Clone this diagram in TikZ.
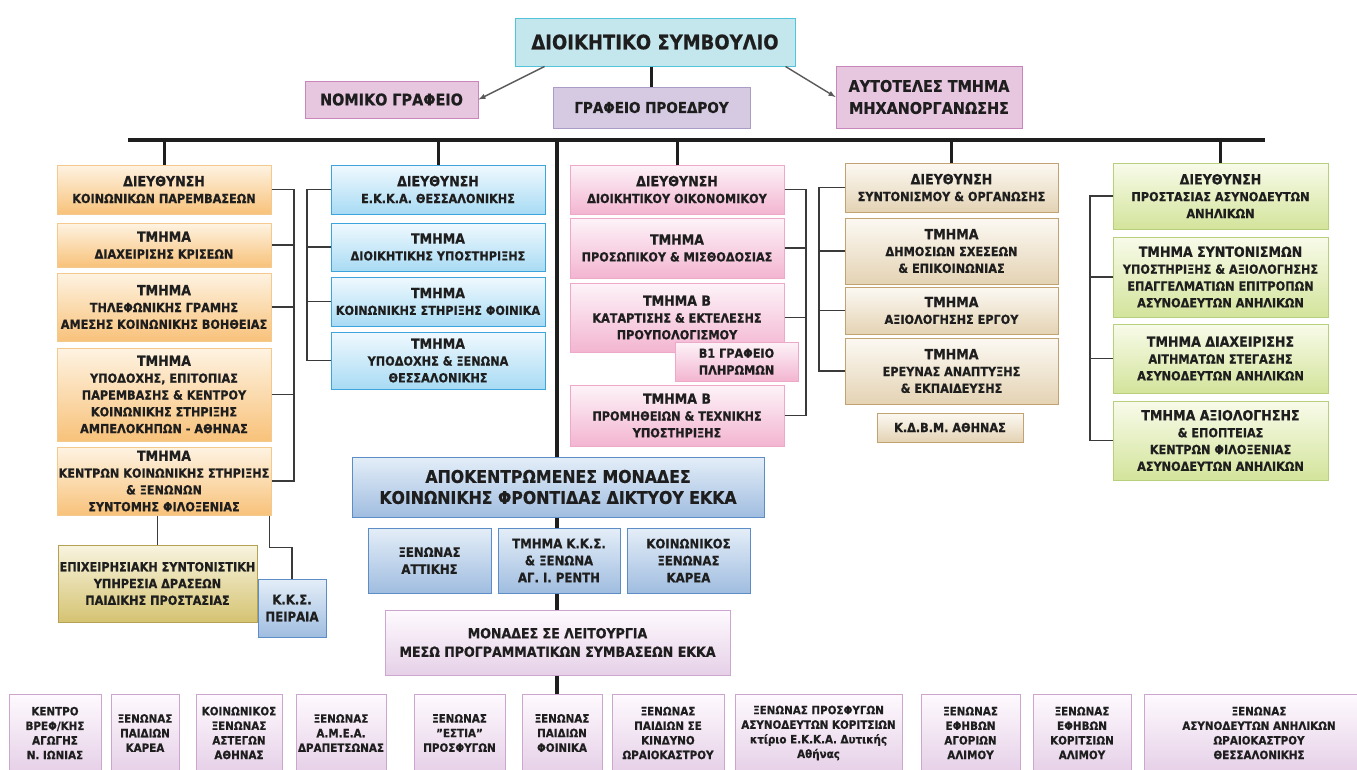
\documentclass[tikz,border=0pt]{standalone}
\usepackage{fontspec}
\setmainfont{DejaVu Sans Condensed}[Ligatures=ResetAll, BoldFeatures={FakeBold=0.6}]
\usepackage{xcolor}
\usetikzlibrary{arrows}

\definecolor{ink}{HTML}{1E1E1E}
\definecolor{tiegray}{HTML}{3A3A3A}
\definecolor{arrgray}{HTML}{5A5A5A}
\definecolor{ortop}{HTML}{FEF3E2}\definecolor{orbot}{HTML}{F8C27A}\definecolor{orline}{HTML}{F4C98E}
\definecolor{bltop}{HTML}{F0F9FE}\definecolor{blbot}{HTML}{A8DBF4}\definecolor{blline}{HTML}{3DA5DC}
\definecolor{pktop}{HTML}{FDF3F8}\definecolor{pkbot}{HTML}{F3B5D1}\definecolor{pkline}{HTML}{EEA8C8}
\definecolor{tntop}{HTML}{FCF9F3}\definecolor{tnbot}{HTML}{E4D3B4}\definecolor{tnline}{HTML}{C3A271}
\definecolor{grtop}{HTML}{F8FBEA}\definecolor{grbot}{HTML}{D3E49B}\definecolor{grline}{HTML}{B8D07C}
\definecolor{eptop}{HTML}{F8F4DF}\definecolor{epbot}{HTML}{D5C372}\definecolor{epline}{HTML}{B4A152}
\definecolor{dbtop}{HTML}{E4EEF8}\definecolor{dbbot}{HTML}{A0BDE0}\definecolor{dbline}{HTML}{5C8DC6}
\definecolor{lvtop}{HTML}{FEFAFE}\definecolor{lvbot}{HTML}{E6D0E8}\definecolor{lvline}{HTML}{CDA6CF}
\definecolor{dsfill}{HTML}{C4E6ED}\definecolor{dsline}{HTML}{52C3D9}
\definecolor{nmfill}{HTML}{E7C6E0}\definecolor{nmline}{HTML}{C886BA}
\definecolor{gpfill}{HTML}{D6CAE2}\definecolor{gpline}{HTML}{AA9CC5}

\newcommand\hd[1]{{\fontsize{14}{17.5}\selectfont #1}}

\tikzset{
  box/.style={draw, line width=1pt, align=center, inner sep=0pt, text=ink,
    font=\fontsize{12.5}{16.8}\selectfont\bfseries},
  orbox/.style={box, draw=orline, top color=ortop, bottom color=orbot, minimum width=214},
  blbox/.style={box, draw=blline, top color=bltop, bottom color=blbot, minimum width=214},
  pkbox/.style={box, draw=pkline, top color=pktop, bottom color=pkbot, minimum width=214},
  tnbox/.style={box, draw=tnline, top color=tntop, bottom color=tnbot, minimum width=213},
  grbox/.style={box, draw=grline, top color=grtop, bottom color=grbot, minimum width=215},
  epbox/.style={box, draw=epline, top color=eptop, bottom color=epbot},
  dbbox/.style={box, draw=dbline, top color=dbtop, bottom color=dbbot, font=\fontsize{13}{17}\selectfont\bfseries},
  lvbox/.style={box, draw=lvline, top color=lvtop, bottom color=lvbot},
  unit/.style={lvbox, minimum height=78, font=\fontsize{11.5}{14.6}\selectfont\bfseries},
  bar/.style={line width=4.5pt, draw=ink},
  drop/.style={line width=3pt, draw=ink},
  tie/.style={line width=1.5pt, draw=tiegray},
  arr/.style={-latex, line width=1.4pt, draw=arrgray},
}

\begin{document}
\begin{tikzpicture}[x=1pt,y=-1pt]
\useasboundingbox (0,0) rectangle (1357,769);
\clip (0,0) rectangle (1357,769);
\fill[white] (0,0) rectangle (1357,769);

% top level
\node[box, draw=dsline, fill=dsfill, minimum width=280, minimum height=48,
  font=\fontsize{20}{24}\selectfont\bfseries] (ds) at (655,42) {ΔΙΟΙΚΗΤΙΚΟ ΣΥΜΒΟΥΛΙΟ};
\node[box, draw=nmline, fill=nmfill, minimum width=173, minimum height=37,
  font=\fontsize{16}{19}\selectfont\bfseries] (nomiko) at (391.5,99.5) {ΝΟΜΙΚΟ ΓΡΑΦΕΙΟ};
\node[box, draw=gpline, fill=gpfill, minimum width=197, minimum height=41,
  font=\fontsize{15}{18}\selectfont\bfseries] (proedrou) at (651.5,107.5) {ΓΡΑΦΕΙΟ ΠΡΟΕΔΡΟΥ};
\node[box, draw=nmline, fill=nmfill, minimum width=186, minimum height=62,
  font=\fontsize{16}{22}\selectfont\bfseries] (mixan) at (929,97) {ΑΥΤΟΤΕΛΕΣ ΤΜΗΜΑ\\ΜΗΧΑΝΟΡΓΑΝΩΣΗΣ};

\draw[arr] ([xshift=30pt]ds.south west) -- (nomiko.east);
\draw[arr] ([xshift=-10pt]ds.south east) -- (mixan.west);
\draw[drop] (proedrou.north |- ds.south) -- (proedrou.north);

\coordinate (barL) at (128,140);
\coordinate (barR) at (1265,140);
\coordinate (trunk) at (557,140);

% orange column
\node[orbox, minimum height=49] (o1) at (164,189.5) {\hd{ΔΙΕΥΘΥΝΣΗ}\\ΚΟΙΝΩΝΙΚΩΝ ΠΑΡΕΜΒΑΣΕΩΝ};
\node[orbox, minimum height=44] (o2) at (164,245) {\hd{ΤΜΗΜΑ}\\ΔΙΑΧΕΙΡΙΣΗΣ ΚΡΙΣΕΩΝ};
\node[orbox, minimum height=68] (o3) at (164,307) {\hd{ΤΜΗΜΑ}\\ΤΗΛΕΦΩΝΙΚΗΣ ΓΡΑΜΗΣ\\ΑΜΕΣΗΣ ΚΟΙΝΩΝΙΚΗΣ ΒΟΗΘΕΙΑΣ};
\node[orbox, minimum height=93] (o4) at (164,394.5) {\hd{ΤΜΗΜΑ}\\ΥΠΟΔΟΧΗΣ, ΕΠΙΤΟΠΙΑΣ\\ΠΑΡΕΜΒΑΣΗΣ \& ΚΕΝΤΡΟΥ\\ΚΟΙΝΩΝΙΚΗΣ ΣΤΗΡΙΞΗΣ\\ΑΜΠΕΛΟΚΗΠΩΝ - ΑΘΗΝΑΣ};
\node[orbox, minimum height=68] (o5) at (164,481) {\hd{ΤΜΗΜΑ}\\ΚΕΝΤΡΩΝ ΚΟΙΝΩΝΙΚΗΣ ΣΤΗΡΙΞΗΣ\\\& ΞΕΝΩΝΩΝ\\ΣΥΝΤΟΜΗΣ ΦΙΛΟΞΕΝΙΑΣ};
\node[epbox, minimum width=199, minimum height=77] (epix) at (157.5,583.5) {ΕΠΙΧΕΙΡΗΣΙΑΚΗ ΣΥΝΤΟΝΙΣΤΙΚΗ\\ΥΠΗΡΕΣΙΑ ΔΡΑΣΕΩΝ\\ΠΑΙΔΙΚΗΣ ΠΡΟΣΤΑΣΙΑΣ};
\node[dbbox, minimum width=68, minimum height=58] (kksp) at (292,608) {Κ.Κ.Σ.\\ΠΕΙΡΑΙΑ};

% blue column
\node[blbox, minimum height=49] (b1) at (438,189.5) {\hd{ΔΙΕΥΘΥΝΣΗ}\\Ε.Κ.Κ.Α. ΘΕΣΣΑΛΟΝΙΚΗΣ};
\node[blbox, minimum height=48] (b2) at (438,247) {\hd{ΤΜΗΜΑ}\\ΔΙΟΙΚΗΤΙΚΗΣ ΥΠΟΣΤΗΡΙΞΗΣ};
\node[blbox, minimum height=49] (b3) at (438,301.5) {\hd{ΤΜΗΜΑ}\\ΚΟΙΝΩΝΙΚΗΣ ΣΤΗΡΙΞΗΣ ΦΟΙΝΙΚΑ};
\node[blbox, minimum height=57] (b4) at (438,360.5) {\hd{ΤΜΗΜΑ}\\ΥΠΟΔΟΧΗΣ \& ΞΕΝΩΝΑ\\ΘΕΣΣΑΛΟΝΙΚΗΣ};

% pink column
\node[pkbox, minimum height=49] (p1) at (677,189.5) {\hd{ΔΙΕΥΘΥΝΣΗ}\\ΔΙΟΙΚΗΤΙΚΟΥ ΟΙΚΟΝΟΜΙΚΟΥ};
\node[pkbox, minimum height=60] (p2) at (677,248) {\hd{ΤΜΗΜΑ}\\ΠΡΟΣΩΠΙΚΟΥ \& ΜΙΣΘΟΔΟΣΙΑΣ};
\node[pkbox, minimum height=69] (p3) at (677,317.5) {\hd{ΤΜΗΜΑ Β}\\ΚΑΤΑΡΤΙΣΗΣ \& ΕΚΤΕΛΕΣΗΣ\\ΠΡΟΥΠΟΛΟΓΙΣΜΟΥ};
\node[pkbox, minimum width=123, minimum height=39] (pb1) at (736.5,361.5) {Β1 ΓΡΑΦΕΙΟ\\ΠΛΗΡΩΜΩΝ};
\node[pkbox, minimum height=61] (p4) at (677,415.5) {\hd{ΤΜΗΜΑ Β}\\ΠΡΟΜΗΘΕΙΩΝ \& ΤΕΧΝΙΚΗΣ\\ΥΠΟΣΤΗΡΙΞΗΣ};

% tan column
\node[tnbox, minimum height=49] (t1) at (951.5,187.5) {\hd{ΔΙΕΥΘΥΝΣΗ}\\ΣΥΝΤΟΝΙΣΜΟΥ \& ΟΡΓΑΝΩΣΗΣ};
\node[tnbox, minimum height=66] (t2) at (951.5,251) {\hd{ΤΜΗΜΑ}\\ΔΗΜΟΣΙΩΝ ΣΧΕΣΕΩΝ\\\& ΕΠΙΚΟΙΝΩΝΙΑΣ};
\node[tnbox, minimum height=47] (t3) at (951.5,310.5) {\hd{ΤΜΗΜΑ}\\ΑΞΙΟΛΟΓΗΣΗΣ ΕΡΓΟΥ};
\node[tnbox, minimum height=66] (t4) at (951.5,371) {\hd{ΤΜΗΜΑ}\\ΕΡΕΥΝΑΣ ΑΝΑΠΤΥΞΗΣ\\\& ΕΚΠΑΙΔΕΥΣΗΣ};
\node[tnbox, minimum width=146, minimum height=29] (kdbm) at (950,427.5) {Κ.Δ.Β.Μ. ΑΘΗΝΑΣ};

% green column
\node[grbox, minimum height=66] (g1) at (1220.5,196) {\hd{ΔΙΕΥΘΥΝΣΗ}\\ΠΡΟΣΤΑΣΙΑΣ ΑΣΥΝΟΔΕΥΤΩΝ\\ΑΝΗΛΙΚΩΝ};
\node[grbox, minimum height=80] (g2) at (1220.5,277) {\hd{ΤΜΗΜΑ ΣΥΝΤΟΝΙΣΜΩΝ}\\ΥΠΟΣΤΗΡΙΞΗΣ \& ΑΞΙΟΛΟΓΗΣΗΣ\\ΕΠΑΓΓΕΛΜΑΤΙΩΝ ΕΠΙΤΡΟΠΩΝ\\ΑΣΥΝΟΔΕΥΤΩΝ ΑΝΗΛΙΚΩΝ};
\node[grbox, minimum height=69] (g3) at (1220.5,358.5) {\hd{ΤΜΗΜΑ ΔΙΑΧΕΙΡΙΣΗΣ}\\ΑΙΤΗΜΑΤΩΝ ΣΤΕΓΑΣΗΣ\\ΑΣΥΝΟΔΕΥΤΩΝ ΑΝΗΛΙΚΩΝ};
\node[grbox, minimum height=79] (g4) at (1220.5,440.5) {\hd{ΤΜΗΜΑ ΑΞΙΟΛΟΓΗΣΗΣ}\\\& ΕΠΟΠΤΕΙΑΣ\\ΚΕΝΤΡΩΝ ΦΙΛΟΞΕΝΙΑΣ\\ΑΣΥΝΟΔΕΥΤΩΝ ΑΝΗΛΙΚΩΝ};

% middle
\node[dbbox, minimum width=412, minimum height=60, font=\fontsize{17.5}{21}\selectfont\bfseries] (apok) at (558,487) {ΑΠΟΚΕΝΤΡΩΜΕΝΕΣ ΜΟΝΑΔΕΣ\\ΚΟΙΝΩΝΙΚΗΣ ΦΡΟΝΤΙΔΑΣ ΔΙΚΤΥΟΥ ΕΚΚΑ};
\node[dbbox, minimum width=123, minimum height=65] (m1) at (429.5,560.5) {ΞΕΝΩΝΑΣ\\ΑΤΤΙΚΗΣ};
\node[dbbox, minimum width=122, minimum height=65] (m2) at (559,560.5) {ΤΜΗΜΑ Κ.Κ.Σ.\\\& ΞΕΝΩΝΑ\\ΑΓ. Ι. ΡΕΝΤΗ};
\node[dbbox, minimum width=123, minimum height=65] (m3) at (688.5,560.5) {ΚΟΙΝΩΝΙΚΟΣ\\ΞΕΝΩΝΑΣ\\ΚΑΡΕΑ};
\node[lvbox, minimum width=345, minimum height=65, font=\fontsize{14}{18.5}\selectfont\bfseries] (monades) at (557.5,642.5) {ΜΟΝΑΔΕΣ ΣΕ ΛΕΙΤΟΥΡΓΙΑ\\ΜΕΣΩ ΠΡΟΓΡΑΜΜΑΤΙΚΩΝ ΣΥΜΒΑΣΕΩΝ ΕΚΚΑ};

% bottom row
\node[unit, minimum width=92] (r1) at (55,733) {ΚΕΝΤΡΟ\\ΒΡΕΦ/ΚΗΣ\\ΑΓΩΓΗΣ\\Ν. ΙΩΝΙΑΣ};
\node[unit, minimum width=68] (r2) at (145,733) {ΞΕΝΩΝΑΣ\\ΠΑΙΔΙΩΝ\\ΚΑΡΕΑ};
\node[unit, minimum width=86] (r3) at (239,733) {ΚΟΙΝΩΝΙΚΟΣ\\ΞΕΝΩΝΑΣ\\ΑΣΤΕΓΩΝ\\ΑΘΗΝΑΣ};
\node[unit, minimum width=90] (r4) at (341,733) {ΞΕΝΩΝΑΣ\\Α.Μ.Ε.Α.\\ΔΡΑΠΕΤΣΩΝΑΣ};
\node[unit, minimum width=91] (r5) at (459.5,733) {ΞΕΝΩΝΑΣ\\"ΕΣΤΙΑ"\\ΠΡΟΣΦΥΓΩΝ};
\node[unit, minimum width=80] (r6) at (562,733) {ΞΕΝΩΝΑΣ\\ΠΑΙΔΙΩΝ\\ΦΟΙΝΙΚΑ};
\node[unit, minimum width=112] (r7) at (668,733) {ΞΕΝΩΝΑΣ\\ΠΑΙΔΙΩΝ ΣΕ\\ΚΙΝΔΥΝΟ\\ΩΡΑΙΟΚΑΣΤΡΟΥ};
\node[unit, minimum width=167] (r8) at (818.5,733) {ΞΕΝΩΝΑΣ ΠΡΟΣΦΥΓΩΝ\\ΑΣΥΝΟΔΕΥΤΩΝ ΚΟΡΙΤΣΙΩΝ\\κτίριο Ε.Κ.Κ.Α. Δυτικής\\Αθήνας};
\node[unit, minimum width=99] (r9) at (970.5,733) {ΞΕΝΩΝΑΣ\\ΕΦΗΒΩΝ\\ΑΓΟΡΙΩΝ\\ΑΛΙΜΟΥ};
\node[unit, minimum width=98] (r10) at (1082,733) {ΞΕΝΩΝΑΣ\\ΕΦΗΒΩΝ\\ΚΟΡΙΤΣΙΩΝ\\ΑΛΙΜΟΥ};
\node[unit, minimum width=230] (r11) at (1259,733) {ΞΕΝΩΝΑΣ\\ΑΣΥΝΟΔΕΥΤΩΝ ΑΝΗΛΙΚΩΝ\\ΩΡΑΙΟΚΑΣΤΡΟΥ\\ΘΕΣΣΑΛΟΝΙΚΗΣ};

% main bar, drops and trunk
\draw[bar] (barL) -- (barR);
\foreach \n in {o1,b1,p1,t1,g1}
  \draw[drop] (\n.north |- barL) -- (\n.north);
\draw[bar] (trunk) -- (trunk |- apok.north);
\draw[bar] (apok.south -| trunk) -- (m2.north -| trunk);
\draw[bar] (m2.south -| trunk) -- (monades.north -| trunk);
\draw[bar] (monades.south -| trunk) -- (r6.north -| trunk);

% brackets
\coordinate (orbr) at (294,0);
\coordinate (blbr) at (307,0);
\coordinate (pkbr) at (806,0);
\coordinate (tnbr) at (819,0);
\coordinate (grbr) at (1090,0);
\draw[tie] (o1.east) -| (orbr |- o5.east) -- (o5.east);
\foreach \n in {o2,o3,o4} \draw[tie] (\n.east) -- (\n.east -| orbr);
\draw[tie] (b1.west) -| (blbr |- b4.west) -- (b4.west);
\foreach \n in {b2,b3} \draw[tie] (\n.west) -- (\n.west -| blbr);
\draw[tie] (p1.east) -| (pkbr |- p4.east) -- (p4.east);
\foreach \n in {p2,p3} \draw[tie] (\n.east) -- (\n.east -| pkbr);
\draw[tie] (t1.west) -| (tnbr |- t4.west) -- (t4.west);
\foreach \n in {t2,t3} \draw[tie] (\n.west) -- (\n.west -| tnbr);
\draw[tie] (g1.west) -| (grbr |- g4.west) -- (g4.west);
\foreach \n in {g2,g3} \draw[tie] (\n.west) -- (\n.west -| grbr);

\draw[tie] (epix.north |- o5.south) -- (epix.north);
\draw[tie] ([xshift=-2pt]o5.south east) -- ++(0,32) -| (kksp.north);
\end{tikzpicture}
\end{document}
